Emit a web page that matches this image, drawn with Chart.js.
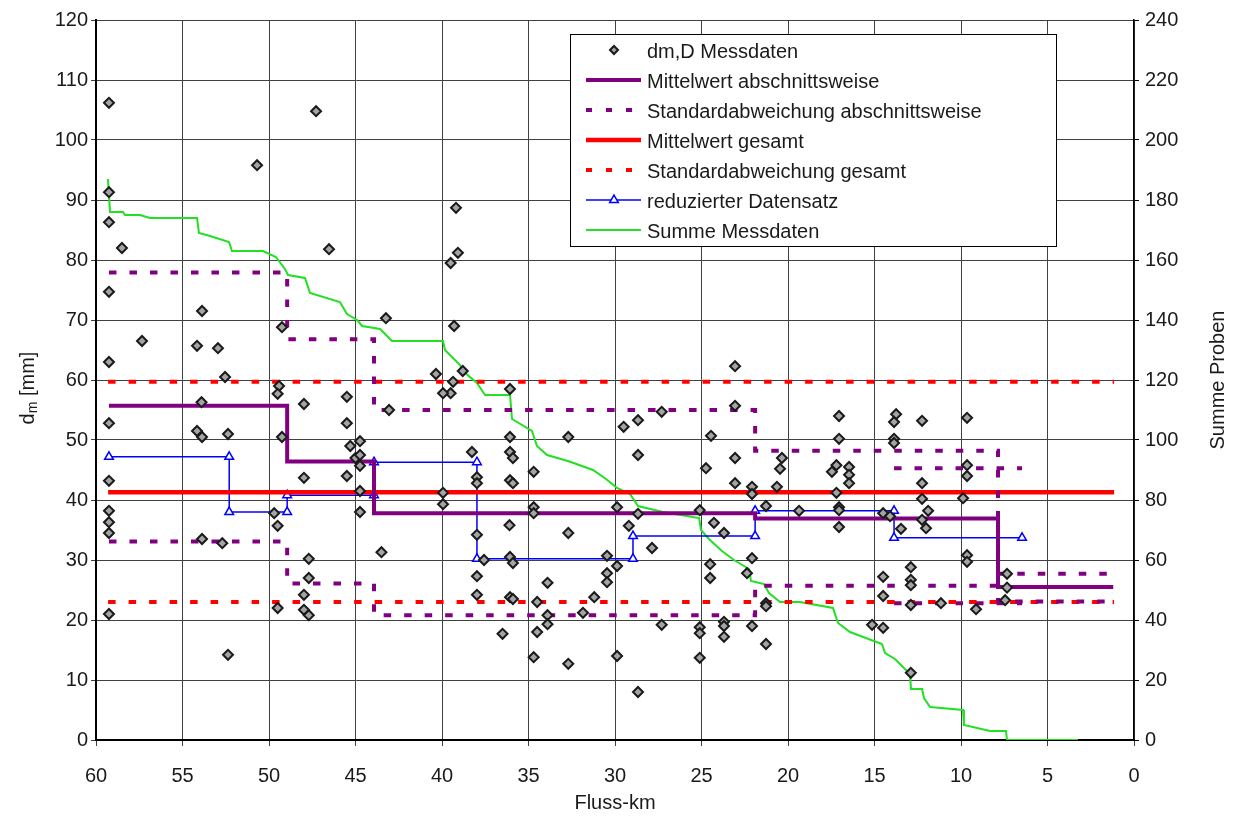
<!DOCTYPE html>
<html lang="de">
<head>
<meta charset="utf-8">
<title>dm,D Messdaten nach Fluss-km</title>
<script src="https://cdn.jsdelivr.net/npm/chart.js@4.4.1/dist/chart.umd.min.js"></script>
<style>
    body { margin: 0; background: #fff; }
    canvas { display: block; }
</style>
</head>
<body>
<canvas id="grafikDm" width="1239" height="820"></canvas>
<script>
// Messdaten dm,D (Fluss-km / mm)
const messKm = [
    59.25, 59.25, 59.25, 59.25, 59.25, 59.25, 59.25, 59.25, 59.25, 59.25, 59.25,
    58.5, 57.34, 54.16, 54.16, 53.87, 53.87, 53.87, 53.9, 52.95, 52.54, 52.37, 52.37, 52.7,
    50.69, 49.42, 49.5, 49.5, 49.5, 49.25, 49.25, 49.7,
    47.28, 46.53, 47.98, 47.98, 47.98, 47.98, 47.7, 47.7, 47.7,
    45.5, 45.5, 45.5, 45.3, 45.0, 44.74, 44.74, 44.74, 44.74, 44.74,
    43.24, 43.06, 43.5, 40.35, 39.19, 39.08, 39.5, 39.5, 39.3, 39.36, 39.94, 39.94, 39.94,
    38.8, 38.27, 37.98, 37.98, 37.98, 37.98, 37.98, 37.57,
    36.07, 36.07, 36.07, 36.07, 36.07, 36.07, 35.9, 35.9, 35.9, 35.9, 36.1, 36.5,
    34.7, 34.7, 34.7, 34.7, 34.5, 34.5, 33.9, 33.9, 33.9, 32.7, 32.7, 32.7, 31.85, 31.2,
    30.46, 30.46, 30.46, 29.88, 29.88, 29.88, 29.5, 29.2, 28.67, 28.67, 28.67, 28.67,
    27.86, 27.3, 27.3, 25.1, 25.1, 25.1, 25.1, 24.45, 24.74, 24.28, 24.5, 24.5,
    23.7, 23.7, 23.7, 23.7, 23.06, 23.06, 23.06, 23.06, 22.08, 22.08, 22.08, 22.08, 22.37,
    21.27, 21.27, 21.27, 21.27, 20.35, 20.46, 20.64, 19.36,
    17.05, 17.05, 17.05, 17.05, 17.05, 17.2, 17.2, 17.46, 16.47, 16.47, 16.47, 15.14,
    14.5, 14.5, 14.5, 14.5, 14.1, 13.75, 13.87, 13.87, 13.87, 13.47,
    12.9, 12.9, 12.9, 12.9, 12.9, 12.25, 12.25, 12.25, 12.25, 11.9, 12.02, 11.16,
    9.65, 9.65, 9.65, 9.65, 9.65, 9.88, 9.13, 7.34, 7.34, 7.45
];
const messDm = [
    106.2, 91.3, 86.3, 74.7, 63, 52.8, 43.2, 38.2, 36.3, 34.5, 21,
    82, 66.5, 65.7, 51.5, 71.5, 50.5, 33.5, 56.3, 65.3, 60.5, 51, 14.2, 32.8,
    95.8, 59, 57.7, 35.7, 22, 68.8, 50.5, 37.8,
    104.8, 81.8, 56, 43.7, 24.2, 21.7, 30.2, 27, 20.8,
    57.2, 52.8, 44, 49, 47, 49.8, 47.5, 45.7, 41.5, 38,
    70.3, 55, 31.3, 61, 88.7, 81.2, 79.5, 57.8, 69, 59.7, 57.8, 41.2, 39.3,
    61.5, 48, 43.8, 42.8, 34.2, 27.3, 24.2, 30,
    58.5, 50.5, 48, 43.3, 30.5, 23.8, 47, 42.8, 29.5, 23.5, 35.8, 17.7,
    44.7, 38.8, 37.8, 13.8, 23, 18, 26.2, 20.8, 19.3, 50.5, 34.5, 12.7, 21.2, 23.8,
    30.7, 27.8, 26.3, 38.8, 29, 14, 52.2, 35.7, 53.3, 47.5, 37.7, 8,
    32, 54.7, 19.2, 38.3, 18.8, 17.8, 13.7, 50.7, 45.3, 36.2, 29.3, 27,
    34.5, 19.7, 19, 17.2, 62.3, 55.7, 47, 42.8, 42.2, 41, 30.3, 19, 27.8,
    39, 22.8, 22.3, 16, 47, 45.2, 42.2, 38.2,
    54, 50.2, 38.8, 38.3, 35.5, 45.8, 41.2, 44.7, 45.5, 44.2, 42.8, 19.2,
    37.8, 27.2, 24, 18.7, 37.3, 54.3, 53, 50.2, 49.5, 35.2,
    28.8, 26.7, 25.8, 22.5, 11.2, 53.2, 42.8, 40.2, 36.7, 38.2, 35.3, 22.8,
    53.7, 45.8, 44, 30.8, 29.7, 40.3, 21.8, 27.7, 25.4, 23.3
];

// Abschnitte (Fluss-km) mit Mittelwert und Standardabweichung
const abschnittGrenzen = [59.25, 48.95, 43.93, 21.9, 7.86, 1.2];
const mittelAbschnitt = [55.7, 46.4, 37.8, 36.9, 25.5];
const stdAbschnittOben = [77.9, 66.8, 55.0, 48.2, 27.7];
const stdAbschnittUnten = [33.1, 26.1, 20.8, 25.7, 23.1];
// zusaetzliche Standardabweichung fuer km 13,9 bis 6,5
const stdTeilGrenzen = [13.87, 6.47];
const stdTeilOben = [45.3];
const stdTeilUnten = [22.8];

// gesamt
const gesamtGrenzen = [59.3, 1.15];
const mittelGesamt = [41.3];
const stdGesamtOben = [59.7];
const stdGesamtUnten = [23.0];

// reduzierter Datensatz
const reduziertKm = [59.25, 52.3, 52.3, 48.95, 48.95, 43.93, 43.93, 37.98, 37.98, 28.96, 28.96, 21.9, 21.9, 13.87, 13.87, 6.47];
const reduziertDm = [47.2, 47.2, 38.0, 38.0, 40.8, 40.8, 46.3, 46.3, 30.2, 30.2, 34.0, 34.0, 38.2, 38.2, 33.7, 33.7];

// Summe Messdaten (rechte Achse)
const summeKm = [59.31, 59.19, 58.44, 58.32, 57.46, 56.88, 54.16, 54.05, 53.41, 52.31, 52.14, 50.35, 49.6, 49.08, 48.9,
    47.92, 47.63, 45.9, 45.49, 44.91, 44.62, 43.58, 42.89, 39.94, 39.83, 38.96, 38.79, 37.98, 37.51, 36.07, 35.95,
    34.8, 34.51, 33.93, 32.72, 31.27, 30.52, 29.88, 29.13, 28.67, 27.23, 25.14, 25.03, 24.57, 23.82, 23.12, 22.25,
    22.14, 21.39, 21.1, 20.46, 19.31, 17.4, 17.11, 16.42, 14.57, 14.39, 13.82, 12.95, 12.89, 12.25, 12.14, 11.79,
    9.88, 9.83, 8.32, 7.4, 7.34, 3.24];
const summeProben = [187, 176, 176, 175, 175, 174, 174, 169, 168, 166, 163, 163, 161, 157, 155,
    154, 149, 146, 142, 140, 138, 137, 133, 133, 130, 125, 123, 119, 115, 115, 107,
    103, 98, 95, 93, 90, 87, 84, 82, 78, 76, 74, 70, 67, 63, 60, 57,
    53, 52, 49, 46, 46, 44, 39, 36, 32, 29, 27, 22, 17, 17, 14, 11,
    10, 5, 3, 3, 0, 0];

const legendeTexte = [
    'dm,D Messdaten',
    'Mittelwert abschnittsweise',
    'Standardabweichung abschnittsweise',
    'Mittelwert gesamt',
    'Standardabweichung gesamt',
    'reduzierter Datensatz',
    'Summe Messdaten'
];

const LILA = '#800080';
const ROT = '#ff0000';
const BLAU = '#0000ff';
const GRUEN = '#22e022';
const SCHRIFT = "'Liberation Sans', Arial, sans-serif";
const STRICH = [7.5, 13];

function stufen(grenzen, werte) {
    const punkte = [];
    werte.forEach(function (w, i) {
        punkte.push({ x: grenzen[i], y: w });
        punkte.push({ x: grenzen[i + 1], y: w });
    });
    return punkte;
}

function paare(xs, ys) {
    return xs.map((x, i) => ({ x: x, y: ys[i] }));
}

function linie(daten, farbe, breite, strich) {
    return {
        data: daten,
        showLine: true,
        borderColor: farbe,
        borderWidth: breite,
        borderDash: strich || [],
        pointRadius: 0,
        pointHoverRadius: 0,
        yAxisID: 'y'
    };
}

// Legende im Diagramm und Achsentitel
const legendePlugin = {
    id: 'legende',
    afterDatasetsDraw(chart) {
        const ctx = chart.ctx;
        const ds = chart.data.datasets;
        const links = 570, oben = 34, breite = 486, hoehe = 212;
        ctx.save();
        ctx.fillStyle = '#fff';
        ctx.fillRect(links, oben, breite, hoehe);
        ctx.strokeStyle = '#000';
        ctx.lineWidth = 1;
        ctx.strokeRect(links + 0.5, oben + 0.5, breite, hoehe);

        const x0 = 586, x1 = 641, xm = 614;
        // Reihenfolge der Datensaetze fuer die Legende
        const muster = [ds[0], ds[1], ds[2], ds[4], ds[5], ds[7], ds[8]];
        muster.forEach(function (d, i) {
            const yz = 52 + i * 30;
            const yl = yz - 2;
            if (i === 0) {
                ctx.fillStyle = d.backgroundColor;
                ctx.strokeStyle = d.borderColor;
                ctx.lineWidth = 2;
                ctx.beginPath();
                ctx.moveTo(xm - 4, yl); ctx.lineTo(xm, yl - 4);
                ctx.lineTo(xm + 4, yl); ctx.lineTo(xm, yl + 4);
                ctx.closePath();
                ctx.fill(); ctx.stroke();
            } else {
                const strich = d.borderDash || [];
                ctx.strokeStyle = d.borderColor;
                ctx.lineWidth = d.borderWidth;
                ctx.setLineDash(strich.length ? [6, 14] : []);
                ctx.beginPath();
                ctx.moveTo(x0, yl);
                ctx.lineTo(x1, yl);
                ctx.stroke();
                ctx.setLineDash([]);
                if (d.pointStyle === 'triangle') {
                    ctx.fillStyle = '#fff';
                    ctx.strokeStyle = d.pointBorderColor;
                    ctx.lineWidth = 1.5;
                    Chart.helpers.drawPoint(ctx, {
                        pointStyle: 'triangle', radius: 5, borderWidth: 1.5
                    }, xm, yl);
                }
            }
            ctx.fillStyle = '#1a1a1a';
            ctx.font = '20px ' + SCHRIFT;
            ctx.textAlign = 'left';
            ctx.textBaseline = 'middle';
            ctx.fillText(legendeTexte[i], 647, yz);
        });
        ctx.restore();
    },
    afterDraw(chart) {
        const ctx = chart.ctx;
        const ca = chart.chartArea;
        const mitte = (ca.top + ca.bottom) / 2;
        ctx.save();
        ctx.fillStyle = '#1a1a1a';
        ctx.textBaseline = 'middle';

        ctx.font = '20px ' + SCHRIFT;
        ctx.textAlign = 'center';
        ctx.fillText('Fluss-km', (ca.left + ca.right) / 2, 803);

        // d_m [mm]
        ctx.save();
        ctx.translate(28, mitte + 8);
        ctx.rotate(-Math.PI / 2);
        ctx.textAlign = 'left';
        const wD = ctx.measureText('d').width;
        ctx.font = '14px ' + SCHRIFT;
        const wM = ctx.measureText('m').width;
        ctx.font = '20px ' + SCHRIFT;
        const wRest = ctx.measureText(' [mm]').width;
        let xs = -(wD + wM + wRest) / 2;
        ctx.fillText('d', xs, 0);
        xs += wD;
        ctx.font = '14px ' + SCHRIFT;
        ctx.fillText('m', xs, 5);
        xs += wM;
        ctx.font = '20px ' + SCHRIFT;
        ctx.fillText(' [mm]', xs, 0);
        ctx.restore();

        ctx.save();
        ctx.translate(1218, mitte);
        ctx.rotate(-Math.PI / 2);
        ctx.textAlign = 'center';
        ctx.fillText('Summe Proben', 0, 0);
        ctx.restore();
        ctx.restore();
    }
};

const ctx = document.getElementById('grafikDm').getContext('2d');

new Chart(ctx, {
    type: 'scatter',
    data: {
        datasets: [
            {
                data: paare(messKm, messDm),
                pointStyle: 'rectRot',
                pointRadius: 5,
                pointHoverRadius: 5,
                backgroundColor: '#a4a4a4',
                borderColor: '#1a1a1a',
                borderWidth: 2,
                yAxisID: 'y'
            },
            linie(stufen(abschnittGrenzen, mittelAbschnitt), LILA, 4),
            linie(stufen(abschnittGrenzen, stdAbschnittOben), LILA, 4, STRICH),
            linie(stufen(abschnittGrenzen, stdAbschnittUnten), LILA, 4, STRICH),
            linie(stufen(gesamtGrenzen, mittelGesamt), ROT, 4.5),
            linie(stufen(gesamtGrenzen, stdGesamtOben), ROT, 4, STRICH),
            linie(stufen(gesamtGrenzen, stdGesamtUnten), ROT, 4, STRICH),
            {
                data: paare(reduziertKm, reduziertDm),
                showLine: true,
                borderColor: BLAU,
                borderWidth: 1.5,
                pointStyle: 'triangle',
                pointRadius: 5,
                pointHoverRadius: 5,
                pointBackgroundColor: '#fff',
                pointBorderColor: BLAU,
                pointBorderWidth: 1.5,
                yAxisID: 'y'
            },
            {
                data: paare(summeKm, summeProben),
                showLine: true,
                borderColor: GRUEN,
                borderWidth: 2,
                pointRadius: 0,
                pointHoverRadius: 0,
                yAxisID: 'y2'
            },
            linie(stufen(stdTeilGrenzen, stdTeilOben), LILA, 4, STRICH),
            linie(stufen(stdTeilGrenzen, stdTeilUnten), LILA, 4, STRICH)
        ]
    },
    options: {
        responsive: false,
        animation: false,
        layout: { padding: { top: 20, left: 0, right: 0, bottom: 0 } },
        plugins: {
            legend: { display: false },
            tooltip: { enabled: false }
        },
        scales: {
            x: {
                type: 'linear',
                reverse: true,
                min: 0,
                max: 60,
                afterFit: function (scale) { scale.height = 80; },
                ticks: {
                    stepSize: 5,
                    color: '#1a1a1a',
                    font: { size: 20, family: SCHRIFT },
                    padding: 18,
                    maxRotation: 0
                },
                grid: { color: '#404040', lineWidth: 1, tickLength: 6 },
                border: { color: '#000', width: 2 }
            },
            y: {
                position: 'left',
                min: 0,
                max: 120,
                afterFit: function (scale) { scale.width = 96; },
                ticks: {
                    stepSize: 10,
                    color: '#1a1a1a',
                    font: { size: 20, family: SCHRIFT },
                    padding: 3
                },
                grid: { color: '#404040', lineWidth: 1, tickLength: 5 },
                border: { color: '#000', width: 2 }
            },
            y2: {
                position: 'right',
                min: 0,
                max: 240,
                afterFit: function (scale) { scale.width = 105; },
                ticks: {
                    stepSize: 20,
                    color: '#1a1a1a',
                    font: { size: 20, family: SCHRIFT },
                    padding: 6
                },
                grid: { drawOnChartArea: false, color: '#000', tickLength: 5 },
                border: { color: '#000', width: 1.5 }
            }
        }
    },
    plugins: [legendePlugin]
});
</script>
</body>
</html>
